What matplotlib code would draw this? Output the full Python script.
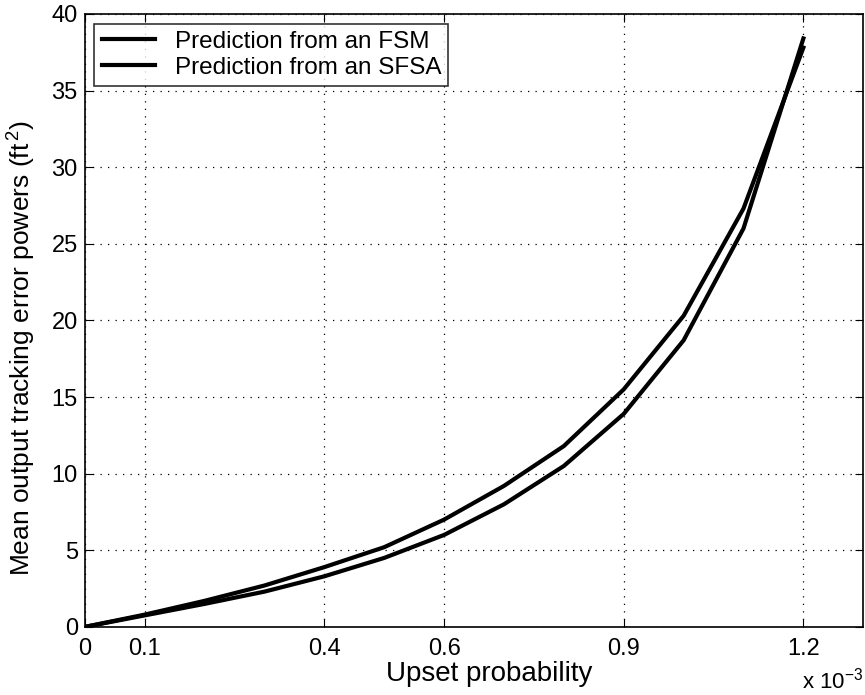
import matplotlib
matplotlib.use("Agg")
import matplotlib.pyplot as plt
from matplotlib.ticker import FuncFormatter

# upset probability (x 1e-3)
upset_prob = [0.0, 0.1, 0.2, 0.3, 0.4, 0.5, 0.6, 0.7, 0.8, 0.9, 1.0, 1.1, 1.2]
fsm_power = [0.0, 0.75, 1.5, 2.3, 3.3, 4.5, 6.0, 8.0, 10.5, 13.9, 18.7, 26.0, 38.4]
sfsa_power = [0.0, 0.8, 1.7, 2.7, 3.9, 5.2, 7.0, 9.2, 11.8, 15.5, 20.3, 27.3, 37.8]
x_ticks = [0.0, 0.1, 0.4, 0.6, 0.9, 1.2]
y_ticks = [0, 5, 10, 15, 20, 25, 30, 35, 40]

plt.rcParams['font.family'] = ['Liberation Sans', 'DejaVu Sans']
plt.rcParams['mathtext.fontset'] = 'custom'
plt.rcParams['mathtext.rm'] = 'Liberation Sans'

fig = plt.figure(figsize=(8.65, 6.95), dpi=100)
ax = fig.add_axes([0.098, 0.098, 0.9, 0.882])

xs = [v * 1e-3 for v in upset_prob]
ax.plot(xs, fsm_power, color='black', lw=3.0, label='Prediction from an FSM')
ax.plot(xs, sfsa_power, color='black', lw=3.0, label='Prediction from an SFSA')

ax.set_xlim(0, 1.3e-3)
ax.set_ylim(0, 40)
ax.set_xticks([v * 1e-3 for v in x_ticks])
ax.xaxis.set_major_formatter(FuncFormatter(lambda v, p: '%g' % round(v * 1e3, 3)))
ax.set_yticks(y_ticks)
ax.tick_params(direction='in', top=True, right=True, labelsize=17, length=6, pad=5)
ax.tick_params(axis='x', pad=8)
ax.grid(True, linestyle=(0, (1, 5)), color='black', linewidth=0.9)
for s in ax.spines.values():
    s.set_linewidth(1.2)

ax.set_xlabel('Upset probability', fontsize=20)
ax.xaxis.set_label_coords(0.52, -0.055)
ax.set_ylabel('Mean output tracking error powers (ft$^{\\,2}$)', fontsize=19)
ax.yaxis.set_label_coords(-0.062, 0.455)
ax.text(1.0, -0.066, 'x 10$^{-3}$', transform=ax.transAxes, fontsize=16,
        ha='right', va='top')

leg = ax.legend(loc='upper left', fontsize=17.5, frameon=True, fancybox=False,
                edgecolor='black', handlelength=2.2, borderaxespad=0.4,
                labelspacing=0.15, borderpad=0.3)
leg.get_frame().set_linewidth(1.2)

fig.savefig('out.png', dpi=100)
